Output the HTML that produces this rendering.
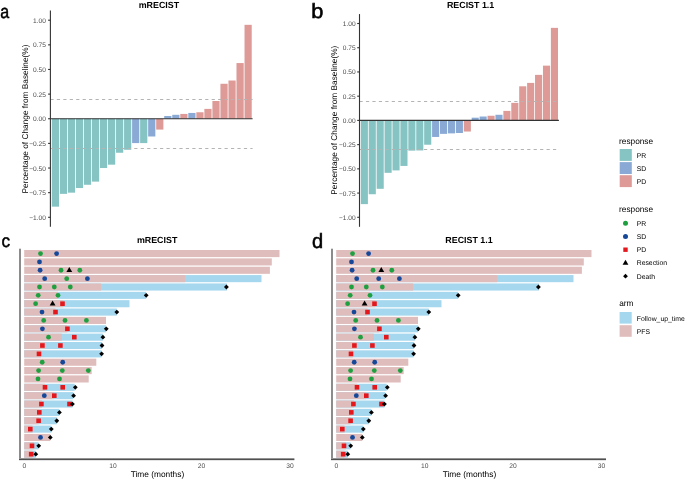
<!DOCTYPE html><html><head><meta charset="utf-8"><style>html,body{margin:0;padding:0;background:#fff;}svg{display:block;will-change:transform;text-rendering:geometricPrecision;}</style></head><body>
<svg width="685" height="480" viewBox="0 0 685 480" font-family="'Liberation Sans', sans-serif">
<rect width="685" height="480" fill="#fff"/>
<text transform="translate(0.3,18.1) scale(0.78,0.93)" font-size="20.5" fill="#000" stroke="#000" stroke-width="0.55">a</text>
<text transform="translate(311.3,18.4) scale(1.06,1)" font-size="20.5" fill="#000" stroke="#000" stroke-width="0.55">b</text>
<text transform="translate(1.5,247.2) scale(0.84,0.88)" font-size="20.5" fill="#000" stroke="#000" stroke-width="0.55">c</text>
<text transform="translate(312.1,247.5) scale(0.98,1)" font-size="20.5" fill="#000" stroke="#000" stroke-width="0.55">d</text>
<rect x="51.80" y="118.75" width="7.20" height="87.91" fill="#86C3C3"/>
<rect x="59.83" y="118.75" width="7.20" height="75.10" fill="#86C3C3"/>
<rect x="67.86" y="118.75" width="7.20" height="73.91" fill="#86C3C3"/>
<rect x="75.89" y="118.75" width="7.20" height="69.28" fill="#86C3C3"/>
<rect x="83.92" y="118.75" width="7.20" height="66.03" fill="#86C3C3"/>
<rect x="91.95" y="118.75" width="7.20" height="62.87" fill="#86C3C3"/>
<rect x="99.98" y="118.75" width="7.20" height="49.27" fill="#86C3C3"/>
<rect x="108.01" y="118.75" width="7.20" height="45.92" fill="#86C3C3"/>
<rect x="116.04" y="118.75" width="7.20" height="34.00" fill="#86C3C3"/>
<rect x="124.07" y="118.75" width="7.20" height="31.04" fill="#86C3C3"/>
<rect x="132.10" y="118.75" width="7.20" height="24.34" fill="#8AAAD5"/>
<rect x="140.13" y="118.75" width="7.20" height="24.34" fill="#86C3C3"/>
<rect x="148.16" y="118.75" width="7.20" height="17.74" fill="#8AAAD5"/>
<rect x="156.19" y="118.75" width="7.20" height="10.84" fill="#DD9A97"/>
<rect x="164.22" y="115.99" width="7.20" height="2.76" fill="#8AAAD5"/>
<rect x="172.25" y="114.81" width="7.20" height="3.94" fill="#8AAAD5"/>
<rect x="180.28" y="113.92" width="7.20" height="4.83" fill="#DD9A97"/>
<rect x="188.31" y="112.94" width="7.20" height="5.81" fill="#8AAAD5"/>
<rect x="196.34" y="112.25" width="7.20" height="6.50" fill="#DD9A97"/>
<rect x="204.37" y="108.89" width="7.20" height="9.86" fill="#DD9A97"/>
<rect x="212.40" y="101.01" width="7.20" height="17.74" fill="#DD9A97"/>
<rect x="220.43" y="83.76" width="7.20" height="34.99" fill="#DD9A97"/>
<rect x="228.46" y="80.51" width="7.20" height="38.24" fill="#DD9A97"/>
<rect x="236.49" y="63.07" width="7.20" height="55.68" fill="#DD9A97"/>
<rect x="244.52" y="24.83" width="7.20" height="93.92" fill="#DD9A97"/>
<line x1="50.40" y1="99.50" x2="252.60" y2="99.50" stroke="#B4B4B4" stroke-width="1" stroke-dasharray="3.2 3.25"/>
<line x1="50.40" y1="148.50" x2="252.60" y2="148.50" stroke="#B4B4B4" stroke-width="1" stroke-dasharray="3.2 3.25"/>
<line x1="50.40" y1="118.75" x2="252.60" y2="118.75" stroke="#333" stroke-width="1.1"/>
<line x1="50.40" y1="10.60" x2="50.40" y2="226.70" stroke="#333" stroke-width="1.1"/>
<line x1="48.10" y1="20.20" x2="50.40" y2="20.20" stroke="#333" stroke-width="1.1"/>
<text x="45.90" y="22.70" font-size="6.6" fill="#4D4D4D" text-anchor="end">1.00</text>
<line x1="48.10" y1="44.84" x2="50.40" y2="44.84" stroke="#333" stroke-width="1.1"/>
<text x="45.90" y="47.34" font-size="6.6" fill="#4D4D4D" text-anchor="end">0.75</text>
<line x1="48.10" y1="69.47" x2="50.40" y2="69.47" stroke="#333" stroke-width="1.1"/>
<text x="45.90" y="71.97" font-size="6.6" fill="#4D4D4D" text-anchor="end">0.50</text>
<line x1="48.10" y1="94.11" x2="50.40" y2="94.11" stroke="#333" stroke-width="1.1"/>
<text x="45.90" y="96.61" font-size="6.6" fill="#4D4D4D" text-anchor="end">0.25</text>
<line x1="48.10" y1="118.75" x2="50.40" y2="118.75" stroke="#333" stroke-width="1.1"/>
<text x="45.90" y="121.25" font-size="6.6" fill="#4D4D4D" text-anchor="end">0.00</text>
<line x1="48.10" y1="143.39" x2="50.40" y2="143.39" stroke="#333" stroke-width="1.1"/>
<text x="45.90" y="145.89" font-size="6.6" fill="#4D4D4D" text-anchor="end">−0.25</text>
<line x1="48.10" y1="168.03" x2="50.40" y2="168.03" stroke="#333" stroke-width="1.1"/>
<text x="45.90" y="170.53" font-size="6.6" fill="#4D4D4D" text-anchor="end">−0.50</text>
<line x1="48.10" y1="192.66" x2="50.40" y2="192.66" stroke="#333" stroke-width="1.1"/>
<text x="45.90" y="195.16" font-size="6.6" fill="#4D4D4D" text-anchor="end">−0.75</text>
<line x1="48.10" y1="217.30" x2="50.40" y2="217.30" stroke="#333" stroke-width="1.1"/>
<text x="45.90" y="219.80" font-size="6.6" fill="#4D4D4D" text-anchor="end">−1.00</text>
<text x="158.90" y="7.8" font-size="8.9" font-weight="bold" fill="#000" text-anchor="middle">mRECIST</text>
<text transform="translate(27.80,119.00) rotate(-90)" font-size="8.3" fill="#000" text-anchor="middle">Percentage of Change from Baseline(%)</text>
<rect x="360.80" y="120.40" width="7.10" height="83.72" fill="#86C3C3"/>
<rect x="368.72" y="120.40" width="7.10" height="73.84" fill="#86C3C3"/>
<rect x="376.64" y="120.40" width="7.10" height="68.41" fill="#86C3C3"/>
<rect x="384.56" y="120.40" width="7.10" height="52.42" fill="#86C3C3"/>
<rect x="392.48" y="120.40" width="7.10" height="50.00" fill="#86C3C3"/>
<rect x="400.40" y="120.40" width="7.10" height="45.54" fill="#86C3C3"/>
<rect x="408.32" y="120.40" width="7.10" height="30.23" fill="#86C3C3"/>
<rect x="416.24" y="120.40" width="7.10" height="30.04" fill="#86C3C3"/>
<rect x="424.16" y="120.40" width="7.10" height="24.32" fill="#86C3C3"/>
<rect x="432.08" y="120.40" width="7.10" height="16.57" fill="#8AAAD5"/>
<rect x="440.00" y="120.40" width="7.10" height="13.47" fill="#8AAAD5"/>
<rect x="447.92" y="120.40" width="7.10" height="12.98" fill="#8AAAD5"/>
<rect x="455.84" y="120.40" width="7.10" height="12.60" fill="#8AAAD5"/>
<rect x="463.76" y="120.40" width="7.10" height="11.14" fill="#DD9A97"/>
<rect x="471.68" y="117.69" width="7.10" height="2.71" fill="#8AAAD5"/>
<rect x="479.60" y="116.52" width="7.10" height="3.88" fill="#8AAAD5"/>
<rect x="487.52" y="115.75" width="7.10" height="4.65" fill="#DD9A97"/>
<rect x="495.44" y="114.78" width="7.10" height="5.62" fill="#8AAAD5"/>
<rect x="503.36" y="110.90" width="7.10" height="9.50" fill="#DD9A97"/>
<rect x="511.28" y="102.86" width="7.10" height="17.54" fill="#DD9A97"/>
<rect x="519.20" y="86.29" width="7.10" height="34.11" fill="#DD9A97"/>
<rect x="527.12" y="82.90" width="7.10" height="37.50" fill="#DD9A97"/>
<rect x="535.04" y="74.86" width="7.10" height="45.54" fill="#DD9A97"/>
<rect x="542.96" y="65.65" width="7.10" height="54.75" fill="#DD9A97"/>
<rect x="550.88" y="27.86" width="7.10" height="92.54" fill="#DD9A97"/>
<line x1="359.50" y1="101.50" x2="558.90" y2="101.50" stroke="#B4B4B4" stroke-width="1" stroke-dasharray="3.2 3.25"/>
<line x1="359.50" y1="149.50" x2="558.90" y2="149.50" stroke="#B4B4B4" stroke-width="1" stroke-dasharray="3.2 3.25"/>
<line x1="359.50" y1="120.40" x2="558.90" y2="120.40" stroke="#333" stroke-width="1.1"/>
<line x1="359.50" y1="14.06" x2="359.50" y2="226.80" stroke="#333" stroke-width="1.1"/>
<line x1="357.20" y1="23.50" x2="359.50" y2="23.50" stroke="#333" stroke-width="1.1"/>
<text x="355.60" y="26.00" font-size="6.6" fill="#4D4D4D" text-anchor="end">1.00</text>
<line x1="357.20" y1="47.72" x2="359.50" y2="47.72" stroke="#333" stroke-width="1.1"/>
<text x="355.60" y="50.22" font-size="6.6" fill="#4D4D4D" text-anchor="end">0.75</text>
<line x1="357.20" y1="71.95" x2="359.50" y2="71.95" stroke="#333" stroke-width="1.1"/>
<text x="355.60" y="74.45" font-size="6.6" fill="#4D4D4D" text-anchor="end">0.50</text>
<line x1="357.20" y1="96.18" x2="359.50" y2="96.18" stroke="#333" stroke-width="1.1"/>
<text x="355.60" y="98.68" font-size="6.6" fill="#4D4D4D" text-anchor="end">0.25</text>
<line x1="357.20" y1="120.40" x2="359.50" y2="120.40" stroke="#333" stroke-width="1.1"/>
<text x="355.60" y="122.90" font-size="6.6" fill="#4D4D4D" text-anchor="end">0.00</text>
<line x1="357.20" y1="144.62" x2="359.50" y2="144.62" stroke="#333" stroke-width="1.1"/>
<text x="355.60" y="147.12" font-size="6.6" fill="#4D4D4D" text-anchor="end">−0.25</text>
<line x1="357.20" y1="168.85" x2="359.50" y2="168.85" stroke="#333" stroke-width="1.1"/>
<text x="355.60" y="171.35" font-size="6.6" fill="#4D4D4D" text-anchor="end">−0.50</text>
<line x1="357.20" y1="193.08" x2="359.50" y2="193.08" stroke="#333" stroke-width="1.1"/>
<text x="355.60" y="195.58" font-size="6.6" fill="#4D4D4D" text-anchor="end">−0.75</text>
<line x1="357.20" y1="217.30" x2="359.50" y2="217.30" stroke="#333" stroke-width="1.1"/>
<text x="355.60" y="219.80" font-size="6.6" fill="#4D4D4D" text-anchor="end">−1.00</text>
<text x="470.60" y="7.8" font-size="8.9" font-weight="bold" fill="#000" text-anchor="middle">RECIST 1.1</text>
<text transform="translate(337.20,120.20) rotate(-90)" font-size="8.3" fill="#000" text-anchor="middle">Percentage of Change from Baseline(%)</text>
<rect x="24.20" y="250.00" width="255.30" height="7.1" fill="#DFBDBC"/>
<rect x="24.20" y="258.36" width="247.60" height="7.1" fill="#DFBDBC"/>
<rect x="24.20" y="266.72" width="245.70" height="7.1" fill="#DFBDBC"/>
<rect x="24.20" y="275.08" width="237.30" height="7.1" fill="#A5D7EE"/>
<rect x="24.20" y="275.08" width="160.90" height="7.1" fill="#DFBDBC"/>
<rect x="24.20" y="283.44" width="202.70" height="7.1" fill="#A5D7EE"/>
<rect x="24.20" y="283.44" width="76.80" height="7.1" fill="#DFBDBC"/>
<rect x="24.20" y="291.80" width="122.00" height="7.1" fill="#A5D7EE"/>
<rect x="24.20" y="291.80" width="33.80" height="7.1" fill="#DFBDBC"/>
<rect x="24.20" y="300.16" width="105.30" height="7.1" fill="#A5D7EE"/>
<rect x="24.20" y="300.16" width="39.10" height="7.1" fill="#DFBDBC"/>
<rect x="24.20" y="308.52" width="92.60" height="7.1" fill="#A5D7EE"/>
<rect x="24.20" y="308.52" width="31.30" height="7.1" fill="#DFBDBC"/>
<rect x="24.20" y="316.88" width="81.80" height="7.1" fill="#DFBDBC"/>
<rect x="24.20" y="325.24" width="81.80" height="7.1" fill="#A5D7EE"/>
<rect x="24.20" y="325.24" width="43.20" height="7.1" fill="#DFBDBC"/>
<rect x="24.20" y="333.60" width="78.70" height="7.1" fill="#A5D7EE"/>
<rect x="24.20" y="333.60" width="37.50" height="7.1" fill="#DFBDBC"/>
<rect x="24.20" y="341.96" width="77.80" height="7.1" fill="#A5D7EE"/>
<rect x="24.20" y="341.96" width="20.50" height="7.1" fill="#DFBDBC"/>
<rect x="24.20" y="350.32" width="77.40" height="7.1" fill="#A5D7EE"/>
<rect x="24.20" y="350.32" width="16.70" height="7.1" fill="#DFBDBC"/>
<rect x="24.20" y="358.68" width="72.10" height="7.1" fill="#DFBDBC"/>
<rect x="24.20" y="367.04" width="67.50" height="7.1" fill="#DFBDBC"/>
<rect x="24.20" y="375.40" width="64.50" height="7.1" fill="#DFBDBC"/>
<rect x="24.20" y="383.76" width="50.50" height="7.1" fill="#A5D7EE"/>
<rect x="24.20" y="383.76" width="20.80" height="7.1" fill="#DFBDBC"/>
<rect x="24.20" y="392.12" width="49.00" height="7.1" fill="#A5D7EE"/>
<rect x="24.20" y="392.12" width="30.00" height="7.1" fill="#DFBDBC"/>
<rect x="24.20" y="400.48" width="48.30" height="7.1" fill="#A5D7EE"/>
<rect x="24.20" y="400.48" width="17.70" height="7.1" fill="#DFBDBC"/>
<rect x="24.20" y="408.84" width="35.20" height="7.1" fill="#A5D7EE"/>
<rect x="24.20" y="408.84" width="15.30" height="7.1" fill="#DFBDBC"/>
<rect x="24.20" y="417.20" width="32.60" height="7.1" fill="#A5D7EE"/>
<rect x="24.20" y="417.20" width="14.60" height="7.1" fill="#DFBDBC"/>
<rect x="24.20" y="425.56" width="27.10" height="7.1" fill="#A5D7EE"/>
<rect x="24.20" y="425.56" width="8.30" height="7.1" fill="#DFBDBC"/>
<rect x="24.20" y="433.92" width="26.10" height="7.1" fill="#DFBDBC"/>
<rect x="24.20" y="442.28" width="14.30" height="7.1" fill="#A5D7EE"/>
<rect x="24.20" y="442.28" width="9.80" height="7.1" fill="#DFBDBC"/>
<rect x="24.20" y="450.64" width="11.60" height="7.1" fill="#A5D7EE"/>
<rect x="24.20" y="450.64" width="8.30" height="7.1" fill="#DFBDBC"/>
<circle cx="40.50" cy="253.55" r="2.4" fill="#1FA040"/>
<circle cx="56.60" cy="253.55" r="2.4" fill="#16489A"/>
<circle cx="39.50" cy="261.91" r="2.4" fill="#16489A"/>
<circle cx="40.10" cy="270.27" r="2.4" fill="#16489A"/>
<circle cx="61.00" cy="270.27" r="2.4" fill="#1FA040"/>
<path d="M69.30 267.07 L72.20 272.07 L66.40 272.07 Z" fill="#000"/>
<circle cx="79.80" cy="270.27" r="2.4" fill="#1FA040"/>
<circle cx="44.70" cy="278.63" r="2.4" fill="#16489A"/>
<circle cx="66.70" cy="278.63" r="2.4" fill="#1FA040"/>
<circle cx="87.40" cy="278.63" r="2.4" fill="#16489A"/>
<circle cx="39.50" cy="286.99" r="2.4" fill="#1FA040"/>
<circle cx="54.30" cy="286.99" r="2.4" fill="#1FA040"/>
<circle cx="70.30" cy="286.99" r="2.4" fill="#1FA040"/>
<path d="M226.40 284.59 L228.80 286.99 L226.40 289.39 L224.00 286.99 Z" fill="#000"/>
<circle cx="38.20" cy="295.35" r="2.4" fill="#1FA040"/>
<circle cx="58.00" cy="295.35" r="2.4" fill="#1FA040"/>
<path d="M146.20 292.95 L148.60 295.35 L146.20 297.75 L143.80 295.35 Z" fill="#000"/>
<circle cx="35.60" cy="303.71" r="2.4" fill="#1FA040"/>
<path d="M52.60 300.51 L55.50 305.51 L49.70 305.51 Z" fill="#000"/>
<rect x="60.20" y="301.41" width="4.6" height="4.6" fill="#E4181C"/>
<circle cx="42.00" cy="312.07" r="2.4" fill="#16489A"/>
<rect x="53.20" y="309.77" width="4.6" height="4.6" fill="#E4181C"/>
<path d="M116.80 309.67 L119.20 312.07 L116.80 314.47 L114.40 312.07 Z" fill="#000"/>
<circle cx="43.70" cy="320.43" r="2.4" fill="#1FA040"/>
<circle cx="65.00" cy="320.43" r="2.4" fill="#1FA040"/>
<circle cx="86.40" cy="320.43" r="2.4" fill="#1FA040"/>
<circle cx="42.40" cy="328.79" r="2.4" fill="#16489A"/>
<rect x="65.10" y="326.49" width="4.6" height="4.6" fill="#E4181C"/>
<path d="M106.30 326.39 L108.70 328.79 L106.30 331.19 L103.90 328.79 Z" fill="#000"/>
<circle cx="48.50" cy="337.15" r="2.4" fill="#1FA040"/>
<rect x="72.00" y="334.85" width="4.6" height="4.6" fill="#E4181C"/>
<path d="M102.90 334.75 L105.30 337.15 L102.90 339.55 L100.50 337.15 Z" fill="#000"/>
<rect x="40.10" y="343.21" width="4.6" height="4.6" fill="#E4181C"/>
<rect x="58.10" y="343.21" width="4.6" height="4.6" fill="#E4181C"/>
<path d="M102.00 343.11 L104.40 345.51 L102.00 347.91 L99.60 345.51 Z" fill="#000"/>
<rect x="36.70" y="351.57" width="4.6" height="4.6" fill="#E4181C"/>
<path d="M101.60 351.47 L104.00 353.87 L101.60 356.27 L99.20 353.87 Z" fill="#000"/>
<circle cx="42.20" cy="362.23" r="2.4" fill="#1FA040"/>
<circle cx="62.70" cy="362.23" r="2.4" fill="#16489A"/>
<circle cx="38.60" cy="370.59" r="2.4" fill="#1FA040"/>
<circle cx="62.30" cy="370.59" r="2.4" fill="#1FA040"/>
<circle cx="88.30" cy="370.59" r="2.4" fill="#1FA040"/>
<circle cx="38.00" cy="378.95" r="2.4" fill="#1FA040"/>
<circle cx="59.50" cy="378.95" r="2.4" fill="#1FA040"/>
<rect x="42.70" y="385.01" width="4.6" height="4.6" fill="#E4181C"/>
<rect x="60.40" y="385.01" width="4.6" height="4.6" fill="#E4181C"/>
<path d="M75.30 384.91 L77.70 387.31 L75.30 389.71 L72.90 387.31 Z" fill="#000"/>
<circle cx="44.30" cy="395.67" r="2.4" fill="#16489A"/>
<rect x="52.00" y="393.37" width="4.6" height="4.6" fill="#E4181C"/>
<path d="M73.60 393.27 L76.00 395.67 L73.60 398.07 L71.20 395.67 Z" fill="#000"/>
<rect x="39.10" y="401.73" width="4.6" height="4.6" fill="#E4181C"/>
<rect x="67.20" y="401.73" width="4.6" height="4.6" fill="#E4181C"/>
<path d="M72.40 401.63 L74.80 404.03 L72.40 406.43 L70.00 404.03 Z" fill="#000"/>
<rect x="37.00" y="410.09" width="4.6" height="4.6" fill="#E4181C"/>
<path d="M59.40 409.99 L61.80 412.39 L59.40 414.79 L57.00 412.39 Z" fill="#000"/>
<rect x="36.30" y="418.45" width="4.6" height="4.6" fill="#E4181C"/>
<path d="M56.80 418.35 L59.20 420.75 L56.80 423.15 L54.40 420.75 Z" fill="#000"/>
<rect x="28.00" y="426.81" width="4.6" height="4.6" fill="#E4181C"/>
<path d="M51.30 426.71 L53.70 429.11 L51.30 431.51 L48.90 429.11 Z" fill="#000"/>
<circle cx="40.50" cy="437.47" r="2.4" fill="#16489A"/>
<path d="M50.30 435.07 L52.70 437.47 L50.30 439.87 L47.90 437.47 Z" fill="#000"/>
<rect x="29.70" y="443.53" width="4.6" height="4.6" fill="#E4181C"/>
<path d="M38.70 443.43 L41.10 445.83 L38.70 448.23 L36.30 445.83 Z" fill="#000"/>
<rect x="28.90" y="451.89" width="4.6" height="4.6" fill="#E4181C"/>
<path d="M35.80 451.79 L38.20 454.19 L35.80 456.59 L33.40 454.19 Z" fill="#000"/>
<rect x="19.00" y="248.7" width="2" height="211.10" fill="#8C8C8C"/>
<rect x="19.00" y="458" width="275.40" height="1" fill="#939393"/>
<rect x="19.00" y="459" width="275.40" height="1" fill="#505050"/>
<rect x="19.00" y="460" width="275.40" height="1" fill="#E4E4E4"/>
<text x="24.40" y="467.9" font-size="6.7" fill="#4D4D4D" text-anchor="middle">0</text>
<text x="112.93" y="467.9" font-size="6.7" fill="#4D4D4D" text-anchor="middle">10</text>
<text x="201.46" y="467.9" font-size="6.7" fill="#4D4D4D" text-anchor="middle">20</text>
<text x="289.99" y="467.9" font-size="6.7" fill="#4D4D4D" text-anchor="middle">30</text>
<text x="157.45" y="477.2" font-size="8.36" fill="#000" text-anchor="middle">Time (months)</text>
<text x="157.10" y="242.6" font-size="8.9" font-weight="bold" fill="#000" text-anchor="middle">mRECIST</text>
<rect x="336.20" y="250.00" width="255.30" height="7.1" fill="#DFBDBC"/>
<rect x="336.20" y="258.36" width="247.60" height="7.1" fill="#DFBDBC"/>
<rect x="336.20" y="266.72" width="245.70" height="7.1" fill="#DFBDBC"/>
<rect x="336.20" y="275.08" width="237.30" height="7.1" fill="#A5D7EE"/>
<rect x="336.20" y="275.08" width="160.90" height="7.1" fill="#DFBDBC"/>
<rect x="336.20" y="283.44" width="202.70" height="7.1" fill="#A5D7EE"/>
<rect x="336.20" y="283.44" width="76.80" height="7.1" fill="#DFBDBC"/>
<rect x="336.20" y="291.80" width="122.00" height="7.1" fill="#A5D7EE"/>
<rect x="336.20" y="291.80" width="33.80" height="7.1" fill="#DFBDBC"/>
<rect x="336.20" y="300.16" width="105.30" height="7.1" fill="#A5D7EE"/>
<rect x="336.20" y="300.16" width="39.10" height="7.1" fill="#DFBDBC"/>
<rect x="336.20" y="308.52" width="92.60" height="7.1" fill="#A5D7EE"/>
<rect x="336.20" y="308.52" width="31.30" height="7.1" fill="#DFBDBC"/>
<rect x="336.20" y="316.88" width="81.80" height="7.1" fill="#DFBDBC"/>
<rect x="336.20" y="325.24" width="81.80" height="7.1" fill="#A5D7EE"/>
<rect x="336.20" y="325.24" width="43.20" height="7.1" fill="#DFBDBC"/>
<rect x="336.20" y="333.60" width="78.70" height="7.1" fill="#A5D7EE"/>
<rect x="336.20" y="333.60" width="37.50" height="7.1" fill="#DFBDBC"/>
<rect x="336.20" y="341.96" width="77.80" height="7.1" fill="#A5D7EE"/>
<rect x="336.20" y="341.96" width="20.50" height="7.1" fill="#DFBDBC"/>
<rect x="336.20" y="350.32" width="77.40" height="7.1" fill="#A5D7EE"/>
<rect x="336.20" y="350.32" width="16.70" height="7.1" fill="#DFBDBC"/>
<rect x="336.20" y="358.68" width="72.10" height="7.1" fill="#DFBDBC"/>
<rect x="336.20" y="367.04" width="67.50" height="7.1" fill="#DFBDBC"/>
<rect x="336.20" y="375.40" width="64.50" height="7.1" fill="#DFBDBC"/>
<rect x="336.20" y="383.76" width="50.50" height="7.1" fill="#A5D7EE"/>
<rect x="336.20" y="383.76" width="20.80" height="7.1" fill="#DFBDBC"/>
<rect x="336.20" y="392.12" width="49.00" height="7.1" fill="#A5D7EE"/>
<rect x="336.20" y="392.12" width="30.00" height="7.1" fill="#DFBDBC"/>
<rect x="336.20" y="400.48" width="48.30" height="7.1" fill="#A5D7EE"/>
<rect x="336.20" y="400.48" width="17.70" height="7.1" fill="#DFBDBC"/>
<rect x="336.20" y="408.84" width="35.20" height="7.1" fill="#A5D7EE"/>
<rect x="336.20" y="408.84" width="15.30" height="7.1" fill="#DFBDBC"/>
<rect x="336.20" y="417.20" width="32.60" height="7.1" fill="#A5D7EE"/>
<rect x="336.20" y="417.20" width="14.60" height="7.1" fill="#DFBDBC"/>
<rect x="336.20" y="425.56" width="27.10" height="7.1" fill="#A5D7EE"/>
<rect x="336.20" y="425.56" width="8.30" height="7.1" fill="#DFBDBC"/>
<rect x="336.20" y="433.92" width="26.10" height="7.1" fill="#DFBDBC"/>
<rect x="336.20" y="442.28" width="14.30" height="7.1" fill="#A5D7EE"/>
<rect x="336.20" y="442.28" width="9.80" height="7.1" fill="#DFBDBC"/>
<rect x="336.20" y="450.64" width="11.60" height="7.1" fill="#A5D7EE"/>
<rect x="336.20" y="450.64" width="8.30" height="7.1" fill="#DFBDBC"/>
<circle cx="352.50" cy="253.55" r="2.4" fill="#1FA040"/>
<circle cx="368.60" cy="253.55" r="2.4" fill="#16489A"/>
<circle cx="351.50" cy="261.91" r="2.4" fill="#16489A"/>
<circle cx="352.10" cy="270.27" r="2.4" fill="#16489A"/>
<circle cx="373.00" cy="270.27" r="2.4" fill="#1FA040"/>
<path d="M381.30 267.07 L384.20 272.07 L378.40 272.07 Z" fill="#000"/>
<circle cx="391.80" cy="270.27" r="2.4" fill="#1FA040"/>
<circle cx="356.70" cy="278.63" r="2.4" fill="#16489A"/>
<circle cx="378.70" cy="278.63" r="2.4" fill="#16489A"/>
<circle cx="399.40" cy="278.63" r="2.4" fill="#16489A"/>
<circle cx="351.50" cy="286.99" r="2.4" fill="#1FA040"/>
<circle cx="366.30" cy="286.99" r="2.4" fill="#1FA040"/>
<circle cx="382.30" cy="286.99" r="2.4" fill="#1FA040"/>
<path d="M538.40 284.59 L540.80 286.99 L538.40 289.39 L536.00 286.99 Z" fill="#000"/>
<circle cx="350.20" cy="295.35" r="2.4" fill="#1FA040"/>
<circle cx="370.00" cy="295.35" r="2.4" fill="#1FA040"/>
<path d="M458.20 292.95 L460.60 295.35 L458.20 297.75 L455.80 295.35 Z" fill="#000"/>
<circle cx="347.60" cy="303.71" r="2.4" fill="#1FA040"/>
<path d="M364.60 300.51 L367.50 305.51 L361.70 305.51 Z" fill="#000"/>
<rect x="372.20" y="301.41" width="4.6" height="4.6" fill="#E4181C"/>
<circle cx="354.00" cy="312.07" r="2.4" fill="#16489A"/>
<rect x="365.20" y="309.77" width="4.6" height="4.6" fill="#E4181C"/>
<path d="M428.80 309.67 L431.20 312.07 L428.80 314.47 L426.40 312.07 Z" fill="#000"/>
<circle cx="355.70" cy="320.43" r="2.4" fill="#1FA040"/>
<circle cx="377.00" cy="320.43" r="2.4" fill="#1FA040"/>
<circle cx="398.40" cy="320.43" r="2.4" fill="#1FA040"/>
<circle cx="354.40" cy="328.79" r="2.4" fill="#16489A"/>
<rect x="377.10" y="326.49" width="4.6" height="4.6" fill="#E4181C"/>
<path d="M418.30 326.39 L420.70 328.79 L418.30 331.19 L415.90 328.79 Z" fill="#000"/>
<circle cx="360.50" cy="337.15" r="2.4" fill="#1FA040"/>
<rect x="384.00" y="334.85" width="4.6" height="4.6" fill="#E4181C"/>
<path d="M414.90 334.75 L417.30 337.15 L414.90 339.55 L412.50 337.15 Z" fill="#000"/>
<rect x="352.10" y="343.21" width="4.6" height="4.6" fill="#E4181C"/>
<rect x="370.10" y="343.21" width="4.6" height="4.6" fill="#E4181C"/>
<path d="M414.00 343.11 L416.40 345.51 L414.00 347.91 L411.60 345.51 Z" fill="#000"/>
<rect x="348.70" y="351.57" width="4.6" height="4.6" fill="#E4181C"/>
<path d="M413.60 351.47 L416.00 353.87 L413.60 356.27 L411.20 353.87 Z" fill="#000"/>
<circle cx="354.20" cy="362.23" r="2.4" fill="#16489A"/>
<circle cx="374.70" cy="362.23" r="2.4" fill="#16489A"/>
<circle cx="350.60" cy="370.59" r="2.4" fill="#1FA040"/>
<circle cx="374.30" cy="370.59" r="2.4" fill="#1FA040"/>
<circle cx="400.30" cy="370.59" r="2.4" fill="#1FA040"/>
<circle cx="350.00" cy="378.95" r="2.4" fill="#1FA040"/>
<circle cx="371.50" cy="378.95" r="2.4" fill="#1FA040"/>
<rect x="354.70" y="385.01" width="4.6" height="4.6" fill="#E4181C"/>
<rect x="372.40" y="385.01" width="4.6" height="4.6" fill="#E4181C"/>
<path d="M387.30 384.91 L389.70 387.31 L387.30 389.71 L384.90 387.31 Z" fill="#000"/>
<circle cx="356.30" cy="395.67" r="2.4" fill="#16489A"/>
<rect x="364.00" y="393.37" width="4.6" height="4.6" fill="#E4181C"/>
<path d="M385.60 393.27 L388.00 395.67 L385.60 398.07 L383.20 395.67 Z" fill="#000"/>
<rect x="351.10" y="401.73" width="4.6" height="4.6" fill="#E4181C"/>
<rect x="379.20" y="401.73" width="4.6" height="4.6" fill="#E4181C"/>
<path d="M384.40 401.63 L386.80 404.03 L384.40 406.43 L382.00 404.03 Z" fill="#000"/>
<rect x="349.00" y="410.09" width="4.6" height="4.6" fill="#E4181C"/>
<path d="M371.40 409.99 L373.80 412.39 L371.40 414.79 L369.00 412.39 Z" fill="#000"/>
<rect x="348.30" y="418.45" width="4.6" height="4.6" fill="#E4181C"/>
<path d="M368.80 418.35 L371.20 420.75 L368.80 423.15 L366.40 420.75 Z" fill="#000"/>
<rect x="340.00" y="426.81" width="4.6" height="4.6" fill="#E4181C"/>
<path d="M363.30 426.71 L365.70 429.11 L363.30 431.51 L360.90 429.11 Z" fill="#000"/>
<circle cx="352.50" cy="437.47" r="2.4" fill="#16489A"/>
<path d="M362.30 435.07 L364.70 437.47 L362.30 439.87 L359.90 437.47 Z" fill="#000"/>
<rect x="341.70" y="443.53" width="4.6" height="4.6" fill="#E4181C"/>
<path d="M350.70 443.43 L353.10 445.83 L350.70 448.23 L348.30 445.83 Z" fill="#000"/>
<rect x="340.90" y="451.89" width="4.6" height="4.6" fill="#E4181C"/>
<path d="M347.80 451.79 L350.20 454.19 L347.80 456.59 L345.40 454.19 Z" fill="#000"/>
<rect x="331.00" y="248.7" width="2" height="211.10" fill="#8C8C8C"/>
<rect x="331.00" y="458" width="275.00" height="1" fill="#939393"/>
<rect x="331.00" y="459" width="275.00" height="1" fill="#505050"/>
<rect x="331.00" y="460" width="275.00" height="1" fill="#E4E4E4"/>
<text x="336.30" y="467.9" font-size="6.7" fill="#4D4D4D" text-anchor="middle">0</text>
<text x="424.70" y="467.9" font-size="6.7" fill="#4D4D4D" text-anchor="middle">10</text>
<text x="513.10" y="467.9" font-size="6.7" fill="#4D4D4D" text-anchor="middle">20</text>
<text x="601.50" y="467.9" font-size="6.7" fill="#4D4D4D" text-anchor="middle">30</text>
<text x="469.45" y="477.2" font-size="8.36" fill="#000" text-anchor="middle">Time (months)</text>
<text x="469.00" y="242.6" font-size="8.9" font-weight="bold" fill="#000" text-anchor="middle">RECIST 1.1</text>
<text x="619" y="143.9" font-size="8.3" fill="#000">response</text>
<rect x="619.7" y="149.00" width="12.1" height="11.9" fill="#86C3C3"/>
<text x="636.7" y="157.70" font-size="6.85" fill="#000">PR</text>
<rect x="619.7" y="162.10" width="12.1" height="11.9" fill="#8AAAD5"/>
<text x="636.7" y="170.80" font-size="6.85" fill="#000">SD</text>
<rect x="619.7" y="175.20" width="12.1" height="11.9" fill="#DD9A97"/>
<text x="636.7" y="183.90" font-size="6.85" fill="#000">PD</text>
<text x="619" y="212.1" font-size="8.3" fill="#000">response</text>
<circle cx="625.5" cy="223.20" r="2.5" fill="#1FA040"/>
<text x="636.7" y="225.70" font-size="6.85" fill="#000">PR</text>
<circle cx="625.5" cy="236.45" r="2.5" fill="#16489A"/>
<text x="636.7" y="238.95" font-size="6.85" fill="#000">SD</text>
<rect x="623.3" y="247.50" width="4.4" height="4.4" fill="#E4181C"/>
<text x="636.7" y="252.20" font-size="6.85" fill="#000">PD</text>
<path d="M625.50 259.75 L628.40 264.75 L622.60 264.75 Z" fill="#000"/>
<text x="636.7" y="265.45" font-size="6.85" fill="#000">Resection</text>
<path d="M625.50 273.80 L627.90 276.20 L625.50 278.60 L623.10 276.20 Z" fill="#000"/>
<text x="636.7" y="278.70" font-size="6.85" fill="#000">Death</text>
<text x="619.2" y="306.3" font-size="8.3" fill="#000">arm</text>
<rect x="619.6" y="312.00" width="12.1" height="11.6" fill="#A5D7EE"/>
<text x="636.8" y="320.60" font-size="6.85" fill="#000">Follow_up_time</text>
<rect x="619.6" y="325.20" width="12.1" height="11.6" fill="#DFBDBC"/>
<text x="636.8" y="333.80" font-size="6.85" fill="#000">PFS</text>
</svg></body></html>
